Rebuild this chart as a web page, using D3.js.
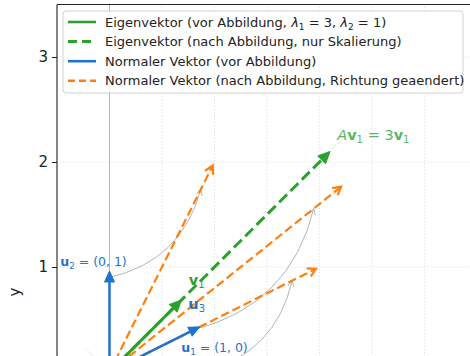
<!DOCTYPE html>
<html><head><meta charset="utf-8">
<script src="https://cdn.jsdelivr.net/npm/d3@7/dist/d3.min.js"></script>
<style>body{margin:0;background:#fff}svg{display:block;font-family:"DejaVu Sans",sans-serif}</style>
</head><body><svg id="c" width="470" height="356"></svg>
<script>
// ---- data ----
const normalNames = ["u1", "u2", "u3"];
const normalBefore = [[1, 0], [0, 1], [0.894, 0.447]];
const normalAfter = [[2, 1], [1, 2], [2.236, 1.789]];
const eigenBefore = [0.707, 0.707];
const eigenAfter = [2.121, 2.121];
const eigenSecondDir = [-0.23, 0.23];
const lambdas = [3, 1];
const xTicks = [-0.5, 0, 0.5, 1, 1.5, 2, 2.5, 3, 3.5];
const yTicks = [0, 1, 2, 3];
const yTickLabels = [1, 2, 3];
const legendLabels = [
  "Eigenvektor (vor Abbildung, λ1 = 3, λ2 = 1)",
  "Eigenvektor (nach Abbildung, nur Skalierung)",
  "Normaler Vektor (vor Abbildung)",
  "Normaler Vektor (nach Abbildung, Richtung geaendert)"
];

const GREEN = "#2ca02c", BLUE = "#1f72cf", ORANGE = "#ff7f0e", GREY = "#b4b4b4";

const svg = d3.select("#c");
const x = d3.scaleLinear().domain([-0.5, 3.5]).range([57, 477]);
const y = d3.scaleLinear().domain([0, 3.5]).range([372, 4.5]);
const P = v => [x(v[0]), y(v[1])];

const defs = svg.append("defs");
defs.append("clipPath").attr("id", "clip").append("rect")
  .attr("x", 57).attr("y", 4.5).attr("width", 500).attr("height", 400);

// grid
const grid = svg.append("g").attr("clip-path", "url(#clip)");
grid.selectAll(".gx").data(xTicks).join("line")
  .attr("x1", d => x(d)).attr("x2", d => x(d)).attr("y1", 0).attr("y2", 400)
  .attr("stroke", "#d8d8d8").attr("stroke-width", 0.8).attr("stroke-dasharray", "1.2,2");
grid.selectAll(".gy").data(yTicks).join("line")
  .attr("y1", d => y(d)).attr("y2", d => y(d)).attr("x1", 57).attr("x2", 480)
  .attr("stroke", "#d8d8d8").attr("stroke-width", 0.8).attr("stroke-dasharray", "1.2,2");
// axis lines through origin
grid.append("line").attr("x1", x(0)).attr("x2", x(0)).attr("y1", 0).attr("y2", 400)
  .attr("stroke", GREY).attr("stroke-width", 1);
grid.append("line").attr("x1", 57).attr("x2", 480).attr("y1", y(0)).attr("y2", y(0))
  .attr("stroke", GREY).attr("stroke-width", 1);

const plot = svg.append("g").attr("clip-path", "url(#clip)");

function arrow(g, p0, p1, o) {
  const dx = p1[0] - p0[0], dy = p1[1] - p0[1], L = Math.hypot(dx, dy);
  const ux = dx / L, uy = dy / L, nx = -uy, ny = ux;
  const s = o.shrink || 0;
  const tip = [p1[0] - ux * s, p1[1] - uy * s];
  const base = [tip[0] - ux * o.hl, tip[1] - uy * o.hl];
  const end = o.head === "filled" ? [base[0] + ux * 2, base[1] + uy * 2] : tip;
  g.append("line").attr("x1", p0[0]).attr("y1", p0[1]).attr("x2", end[0]).attr("y2", end[1])
    .attr("stroke", o.color).attr("stroke-width", o.w)
    .attr("stroke-dasharray", o.dash || null).attr("fill", "none");
  const a = [base[0] + nx * o.hw, base[1] + ny * o.hw];
  const b = [base[0] - nx * o.hw, base[1] - ny * o.hw];
  if (o.head === "filled") {
    g.append("path").attr("d", `M${tip}L${a}L${b}Z`).attr("fill", o.color)
      .attr("stroke", o.color).attr("stroke-width", 1).attr("stroke-linejoin", "miter");
  } else {
    g.append("path").attr("d", `M${a}L${tip}L${b}`).attr("fill", "none")
      .attr("stroke", o.color).attr("stroke-width", o.w).attr("stroke-linejoin", "miter");
  }
}

// faint second eigen direction & eigen line extension
plot.append("line").attr("x1", x(0)).attr("y1", y(0))
  .attr("x2", x(eigenSecondDir[0])).attr("y2", y(eigenSecondDir[1]))
  .attr("stroke", GREEN).attr("stroke-opacity", 0.45).attr("stroke-width", 1).attr("stroke-dasharray", "1,2");
plot.append("line").attr("x1", x(eigenAfter[0])).attr("y1", y(eigenAfter[1]))
  .attr("x2", x(eigenAfter[0] * 1.04)).attr("y2", y(eigenAfter[1] * 1.04))
  .attr("stroke", GREEN).attr("stroke-opacity", 0.45).attr("stroke-width", 1).attr("stroke-dasharray", "1,1.5");

// grey arcs from u to Au
normalBefore.forEach((u, i) => {
  const S = P([u[0] * 0.9, u[1] * 0.9]);
  const Av = normalAfter[i];
  const E = P([Av[0] * 0.87, Av[1] * 0.87]);
  const dx = E[0] - S[0], dy = E[1] - S[1], r = 0.3;
  const C = [(S[0] + E[0]) / 2 - r * dy, (S[1] + E[1]) / 2 + r * dx];
  plot.append("path").attr("d", `M${S}Q${C} ${E}`).attr("fill", "none")
    .attr("stroke", GREY).attr("stroke-width", 1);
  const ddx = E[0] - C[0], ddy = E[1] - C[1], l = Math.hypot(ddx, ddy);
  const ux = ddx / l, uy = ddy / l, hl = 6, hw = 3;
  const bs = [E[0] - ux * hl, E[1] - uy * hl];
  plot.append("path").attr("d", `M${bs[0] - uy * hw},${bs[1] + ux * hw}L${E}L${bs[0] + uy * hw},${bs[1] - ux * hw}`)
    .attr("fill", "none").attr("stroke", GREY).attr("stroke-width", 1);
});

const O = P([0, 0]);
// orange: after mapping
normalAfter.forEach(v => arrow(plot, O, P(v), {color: ORANGE, w: 2.2, dash: "8.5,4", head: "open", hl: 8, hw: 4.5, shrink: 4}));
// green dashed: A v1
arrow(plot, O, P(eigenAfter), {color: GREEN, w: 3, dash: "11,5", head: "filled", hl: 12, hw: 5.5, shrink: 3});
// green solid: v1
arrow(plot, O, P(eigenBefore), {color: GREEN, w: 3, head: "filled", hl: 12, hw: 5.5, shrink: 3});
// blue: before mapping
normalBefore.forEach(v => arrow(plot, O, P(v), {color: BLUE, w: 2.5, head: "filled", hl: 11, hw: 5, shrink: 4}));

// labels
function mathLabel(g, px, py, parts, color, size, anchor) {
  const t = g.append("text").attr("x", px).attr("y", py).attr("fill", color)
    .attr("font-size", size).attr("text-anchor", anchor || "start");
  parts.forEach(p => {
    const ts = t.append("tspan").text(p.t);
    if (p.b) ts.attr("font-weight", "bold");
    if (p.i) ts.attr("font-style", "italic");
    if (p.sub) ts.attr("font-size", size * 0.7).attr("dy", size * 0.22);
    if (p.up) ts.attr("dy", -size * 0.22);
  });
  return t;
}
const lab = svg.append("g");
const tU1 = P(normalBefore[0]), tU2 = P(normalBefore[1]), tU3 = P(normalBefore[2]);
mathLabel(lab, tU2[0] - 16, tU2[1] - 1, [{t: "u", b: 1}, {t: "2", sub: 1}, {t: " = (0, 1)", up: 1}], BLUE, 12.5, "middle");
mathLabel(lab, tU1[0], tU1[1] - 20, [{t: "u", b: 1}, {t: "1", sub: 1}, {t: " = (1, 0)", up: 1}], BLUE, 12.5, "middle");
mathLabel(lab, tU3[0] - 15, tU3[1] - 16, [{t: "u", b: 1}, {t: "3", sub: 1}], BLUE, 14.5);
const tV1 = P(eigenBefore), tAV = P(eigenAfter);
mathLabel(lab, tV1[0] + 5, tV1[1] - 13, [{t: "v", b: 1}, {t: "1", sub: 1}], GREEN, 14.5);
mathLabel(lab, tAV[0] + 5, tAV[1] - 9,
  [{t: "A", i: 1}, {t: "v", b: 1}, {t: "1", sub: 1}, {t: " = " + lambdas[0], up: 1}, {t: "v", b: 1}, {t: "1", sub: 1}],
  GREEN, 14.5).attr("fill-opacity", 0.8);

// axes spines and ticks
const ax = svg.append("g").attr("transform", "translate(57,0)")
  .call(d3.axisLeft(y).tickValues(yTickLabels).tickSize(5).tickPadding(4).tickFormat(d3.format("d")));
ax.select(".domain").remove();
ax.selectAll("text").attr("font-size", 15).attr("font-family", "DejaVu Sans").attr("fill", "#222");
ax.selectAll("line").attr("stroke", "#222");
svg.append("line").attr("x1", 57).attr("x2", 57).attr("y1", 4.5).attr("y2", 356).attr("stroke", "#222").attr("stroke-width", 1.1);
svg.append("line").attr("x1", 57).attr("x2", 470).attr("y1", 4.5).attr("y2", 4.5).attr("stroke", "#222").attr("stroke-width", 1.1);
svg.append("text").attr("transform", "translate(20,292) rotate(-90)").attr("text-anchor", "middle")
  .attr("font-size", 15).attr("fill", "#222").text("y");

// legend
const lg = svg.append("g");
lg.append("rect").attr("x", 63).attr("y", 11).attr("width", 400).attr("height", 82).attr("rx", 3)
  .attr("fill", "#fff").attr("fill-opacity", 0.85).attr("stroke", "#d0d0d0").attr("stroke-width", 1);
const legendStyles = [
  {c: GREEN, dash: null}, {c: GREEN, dash: "9,5"}, {c: BLUE, dash: null}, {c: ORANGE, dash: "7,4"}
];
legendLabels.forEach((s, i) => {
  const yy = 22 + i * 19.6;
  lg.append("line").attr("x1", 68).attr("x2", 96).attr("y1", yy).attr("y2", yy)
    .attr("stroke", legendStyles[i].c).attr("stroke-width", i === 1 ? 3 : 2.6)
    .attr("stroke-dasharray", legendStyles[i].dash);
  const t = lg.append("text").attr("x", 105).attr("y", yy + 4.5).attr("font-size", 13).attr("fill", "#222");
  if (i === 0) {
    t.append("tspan").text("Eigenvektor (vor Abbildung, ");
    t.append("tspan").attr("font-style", "italic").text("λ");
    t.append("tspan").attr("font-size", 9).attr("dy", 3).text("1");
    t.append("tspan").attr("dy", -3).text(" = " + lambdas[0] + ", ");
    t.append("tspan").attr("font-style", "italic").text("λ");
    t.append("tspan").attr("font-size", 9).attr("dy", 3).text("2");
    t.append("tspan").attr("dy", -3).text(" = " + lambdas[1] + ")");
  } else t.text(s);
});
</script></body></html>
